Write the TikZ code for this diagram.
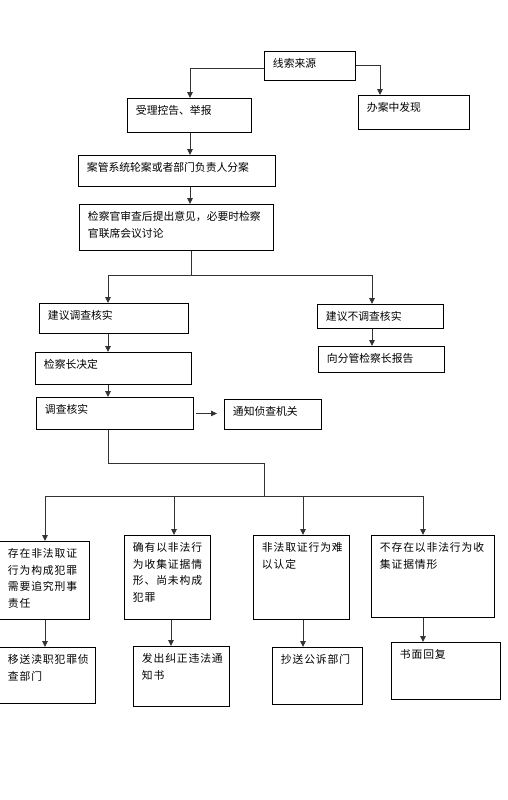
\documentclass[tikz,border=0pt]{standalone}
\usepackage{fontspec}
\newfontfamily\cjk{Noto Sans CJK SC}
\newfontfamily\cjkw[LetterSpace=8]{Noto Sans CJK SC}
\usepackage{tikz}
\usetikzlibrary{arrows.meta, positioning, calc}
\newcommand{\tb}[3]{\parbox[t][#2pt][t]{#1pt}{#3}}

\begin{document}
\begin{tikzpicture}[x=1pt, y=-1pt,
  blk/.style  = {draw=black, line width=0.9pt, anchor=north west,
                 inner xsep=8.5pt, inner ysep=7pt,
                 font=\cjk\fontsize{10.8}{17}\selectfont},
  wide/.style = {blk, font=\cjkw\fontsize{10.8}{16.5}\selectfont},
  line/.style = {draw=black!80, line width=0.9pt},
  arr/.style  = {line, -{Triangle[length=6pt,width=5.5pt]}},
]
  \useasboundingbox (0,0) rectangle (508,800);

  \node[blk] (src)    at (264,51)  {\tb{74}{15}{线索来源}};
  \node[blk] (accept) at (127,98)  {\tb{107}{20}{受理控告、举报}};
  \node[blk] (found)  at (358,95)  {\tb{94}{20}{办案中发现}};
  \node[blk] (assign) at (78,155)  {\tb{180}{17}{案管系统轮案或者部门负责人分案}};
  \node[blk] (review) at (79,204)  {\tb{177}{32}{检察官审查后提出意见，必要时检察\\官联席会议讨论}};
  \node[blk] (yes)    at (39,303)  {\tb{132}{16}{建议调查核实}};
  \node[blk] (no)     at (317,304) {\tb{109}{10}{建议不调查核实}};
  \node[blk] (report) at (318,346) {\tb{109}{12}{向分管检察长报告}};
  \node[blk] (decide) at (35,352)  {\tb{139}{18}{检察长决定}};
  \node[blk] (invest) at (36,397)  {\tb{140}{18}{调查核实}};
  \node[blk] (notify) at (224,399) {\tb{80}{16}{通知侦查机关}};

  \node[wide] (c1) at (-1,541)  {\tb{73}{64}{存在非法取证\\行为构成犯罪\\需要追究刑事\\责任}};
  \node[wide] (c2) at (124,535) {\tb{69}{70}{确有以非法行\\为收集证据情\\形、尚未构成\\犯罪}};
  \node[wide] (c3) at (253,535) {\tb{79}{70}{非法取证行为难\\以认定}};
  \node[wide] (c4) at (371,535) {\tb{106}{68}{不存在以非法行为收\\集证据情形}};
  \node[wide] (r1) at (-1,647)  {\tb{79}{42}{移送渎职犯罪侦\\查部门}};
  \node[wide] (r2) at (133,646) {\tb{79}{46}{发出纠正违法通\\知书}};
  \node[wide] (r3) at (272,647) {\tb{73}{43}{抄送公诉部门}};
  \node[wide] (r4) at (391,642) {\tb{92}{43}{书面回复}};

  \coordinate (mx) at (190,0);
  \coordinate (lx) at (108,0);
  \coordinate (rx) at (372,0);
  \coordinate (fork) at (191,275);
  \coordinate (bend) at (264,463);
  \coordinate (bus)  at (264,496);

  \draw[arr] ([yshift=-2.5pt]src.west) -| (mx |- accept.north);
  \draw[arr] (src.east) -| ([xshift=22pt]found.north west);
  \draw[arr] (mx |- accept.south) -- (mx |- assign.north);
  \draw[arr] (mx |- assign.south) -- (mx |- review.north);
  \draw[line] (review.south -| fork) -- (fork);
  \draw[arr] (fork) -| (lx |- yes.north);
  \draw[arr] (fork) -| (rx |- no.north);
  \draw[arr] (lx |- yes.south) -- (lx |- decide.north);
  \draw[arr] (lx |- decide.south) -- (lx |- invest.north);
  \draw[arr] (rx |- no.south) -- (rx |- report.north);
  \draw[arr, shorten <=2pt, shorten >=7pt] (invest.east) -- (invest.east -| notify.west);

  \draw[line] (lx |- invest.south) |- (bend) -- (bus);
  \draw[line] (bus -| 45,0) -- (bus -| 423,0);
  \foreach \n/\x in {c1/45, c2/174, c3/303, c4/423}
    \draw[arr] (bus -| \x,0) -- (\x,0 |- \n.north);
  \foreach \a/\b/\x in {c1/r1/45, c2/r2/171, c3/r3/303, c4/r4/423}
    \draw[arr] (\x,0 |- \a.south) -- (\x,0 |- \b.north);
\end{tikzpicture}
\end{document}
